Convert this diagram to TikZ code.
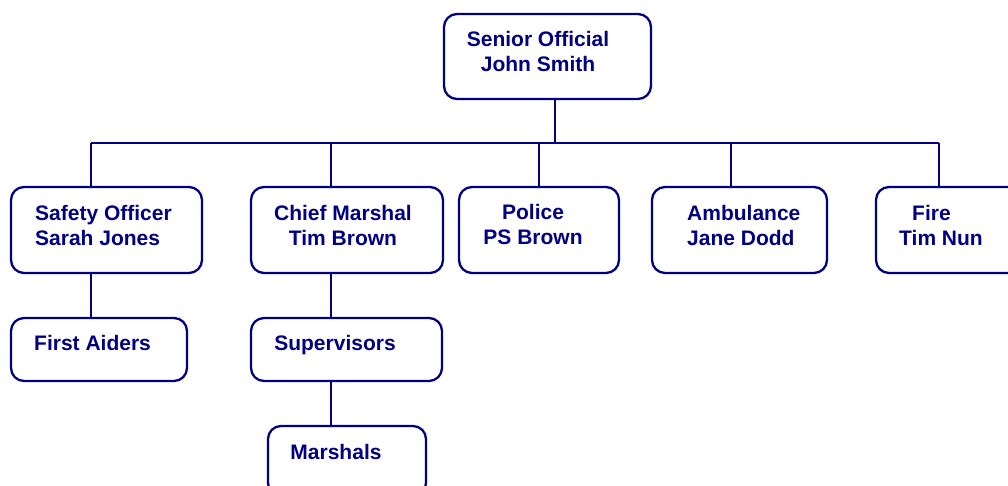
\documentclass[tikz,border=0pt]{standalone}
\usepackage{fontspec}
\setmainfont{Liberation Sans}
\usetikzlibrary{positioning,calc}
\definecolor{navy}{RGB}{0,0,128}

\begin{document}
\begin{tikzpicture}
  [x=1pt,y=-1pt,
   orgN/.style={draw=navy,rounded corners=13pt,line width=2.3pt,inner sep=0pt},
   txtN/.style={text=navy,inner sep=0pt,anchor=north,align=center,
     font=\bfseries\fontsize{21}{25.5}\selectfont},
   link/.style={draw=navy,line width=2.3pt}]

  \useasboundingbox (0,0) rectangle (1008,486);

  % boxes
  \path (547.5,56.5) node[orgN,minimum width=207pt,minimum height=85pt] (senior) {}
        (106.5,230)  node[orgN,minimum width=191pt,minimum height=86pt] (safety) {}
        (347,230)    node[orgN,minimum width=192pt,minimum height=86pt] (chief) {}
        (539,230)    node[orgN,minimum width=160pt,minimum height=86pt] (police) {}
        (739.5,230)  node[orgN,minimum width=175pt,minimum height=86pt] (ambulance) {}
        (956,230)    node[orgN,minimum width=160pt,minimum height=86pt] (fire) {}
        (99,349.5)   node[orgN,minimum width=176pt,minimum height=63pt] (aiders) {}
        (346.5,349.5) node[orgN,minimum width=191pt,minimum height=63pt] (supervisors) {}
        (347,461)    node[orgN,minimum width=158pt,minimum height=70pt] (marshals) {};

  % texts
  \node[txtN] (seniorT) at (538,31) {Senior Official\\John Smith};
  \node[txtN,anchor=north west,align=left] (safetyT) at (35,205) {Safety Officer\\Sarah Jones};
  \node[txtN] (chiefT) at (343,205) {Chief Marshal\\Tim Brown};
  \node[txtN] (policeT) at (533,204) {Police\\PS Brown};
  \node[txtN,anchor=north west,align=left] (ambulanceT) at (687,205) {Ambulance\\Jane Dodd};
  \node[txtN,anchor=north west,align=left] (fireT) at (899,205) {\hspace*{13pt}Fire\\Tim Nun};
  \node[txtN,anchor=north west] (aidersT) at (34,335) {First Aiders};
  \node[txtN] (supervisorsT) at (335,335) {Supervisors};
  \node[txtN] (marshalsT) at (336,444) {Marshals};

  % bus
  \coordinate (top) at (555,143);
  \coordinate (j1) at (91,143);
  \coordinate (j2) at (331,143);
  \coordinate (j3) at (539,143);
  \coordinate (j4) at (731,143);
  \coordinate (j5) at (939,143);

  \draw[link] (senior.south -| top) -- (top);
  \draw[link] (j1) -- (j5);
  \draw[link] (j1) -- (j1 |- safety.north);
  \draw[link] (j2) -- (j2 |- chief.north);
  \draw[link] (j3) -- (j3 |- police.north);
  \draw[link] (j4) -- (j4 |- ambulance.north);
  \draw[link] (j5) -- (j5 |- fire.north);

  \draw[link] (j1 |- safety.south) -- (j1 |- aiders.north);
  \draw[link] (j2 |- chief.south) -- (j2 |- supervisors.north);
  \draw[link] (j2 |- supervisors.south) -- (j2 |- marshals.north);

\end{tikzpicture}
\end{document}
